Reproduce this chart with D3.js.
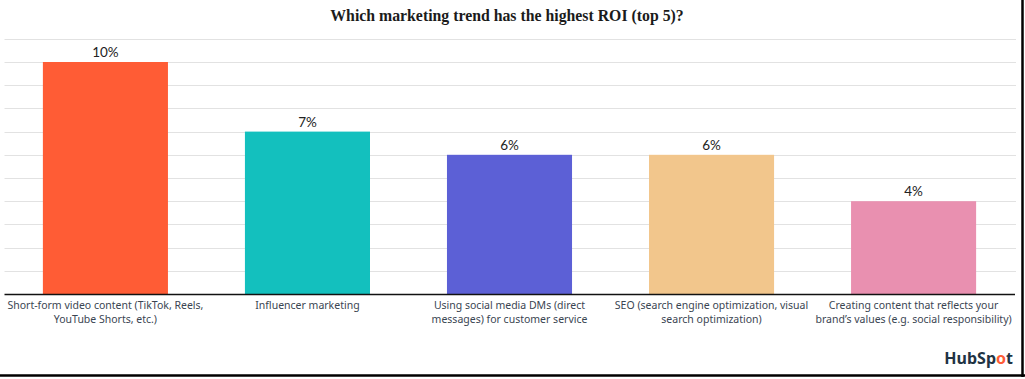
<!DOCTYPE html>
<html>
<head>
<meta charset="utf-8">
<script src="https://cdn.jsdelivr.net/npm/d3@7"></script>
<style>
  html, body { margin: 0; padding: 0; background: #fff; }
  svg { display: block; }
</style>
</head>
<body>
<svg id="chart" width="1025" height="379"></svg>
<script>
const title = "Which marketing trend has the highest ROI (top 5)?";
const categories = [
  ["Short-form video content (TikTok, Reels,", "YouTube Shorts, etc.)"],
  ["Influencer marketing"],
  ["Using social media DMs (direct", "messages) for customer service"],
  ["SEO (search engine optimization, visual", "search optimization)"],
  ["Creating content that reflects your", "brand’s values (e.g. social responsibility)"]
];
const values = [10, 7, 6, 6, 4];
const colors = ["#ff5c35", "#13c0be", "#5c60d6", "#f2c68c", "#e990b0"];
const gridTicks = [1, 2, 3, 4, 5, 6, 7, 8, 9, 10, 11];

const svg = d3.select("#chart");

const x = d3.scaleBand()
  .domain(d3.range(values.length))
  .range([4.5, 1014.5])
  .paddingInner(0.381)
  .paddingOuter(0.19);
const y = d3.scaleLinear().domain([0, 11]).range([294, 38.8]);

// gridlines
svg.append("g").selectAll("line").data(gridTicks).join("line")
  .attr("x1", 4.5).attr("x2", 1016)
  .attr("y1", d => Math.round(y(d)) + 0.5).attr("y2", d => Math.round(y(d)) + 0.5)
  .attr("stroke", "#e2e2e2").attr("stroke-width", 1);

// bars
svg.append("g").selectAll("rect").data(values).join("rect")
  .attr("x", (d, i) => x(i))
  .attr("width", x.bandwidth())
  .attr("y", d => y(d))
  .attr("height", d => y(0) - y(d))
  .attr("fill", (d, i) => colors[i]);

// baseline
svg.append("line")
  .attr("x1", 4.5).attr("x2", 1015)
  .attr("y1", y(0) + 0.5).attr("y2", y(0) + 0.5)
  .attr("stroke", "#111").attr("stroke-width", 1.3);

// value labels
svg.append("g").selectAll("text").data(values).join("text")
  .attr("x", (d, i) => x(i) + x.bandwidth() / 2)
  .attr("y", d => y(d) - 5)
  .attr("text-anchor", "middle")
  .attr("font-family", "Lato, sans-serif")
  .attr("font-weight", 400)
  .attr("font-size", 13.5)
  .attr("fill", "#222")
  .text(d => d + "%");

// category labels
const cat = svg.append("g").selectAll("text").data(categories).join("text")
  .attr("text-anchor", "middle")
  .attr("font-family", "'Noto Sans', sans-serif")
  .attr("font-size", 10.5)
  .attr("fill", "#3a4552");
cat.each(function(lines, i) {
  d3.select(this).selectAll("tspan").data(lines).join("tspan")
    .attr("x", x(i) + x.bandwidth() / 2)
    .attr("y", (l, j) => 309 + j * 13.5)
    .text(l => l);
});

// title
svg.append("text")
  .attr("x", 507).attr("y", 21)
  .attr("text-anchor", "middle")
  .attr("font-family", "'Liberation Serif', serif")
  .attr("font-weight", "bold")
  .attr("font-size", 15.8)
  .attr("fill", "#1b1b1b")
  .text(title);

// logo
const logo = svg.append("text")
  .attr("x", 1013).attr("y", 364)
  .attr("text-anchor", "end")
  .attr("font-family", "'Noto Sans', sans-serif")
  .attr("font-weight", "bold")
  .attr("font-size", 16)
  .attr("fill", "#213343");
logo.append("tspan").text("HubSp");
logo.append("tspan").attr("fill", "#ff5c35").text("o");
logo.append("tspan").text("t");

// frame edges (right and bottom)
svg.append("line").attr("x1", 1022.5).attr("x2", 1022.5).attr("y1", 0).attr("y2", 377)
  .attr("stroke", "#000").attr("stroke-width", 2.5);
svg.append("line").attr("x1", 0).attr("x2", 1025).attr("y1", 375.5).attr("y2", 375.5)
  .attr("stroke", "#000").attr("stroke-width", 2.5);
</script>
</body>
</html>
